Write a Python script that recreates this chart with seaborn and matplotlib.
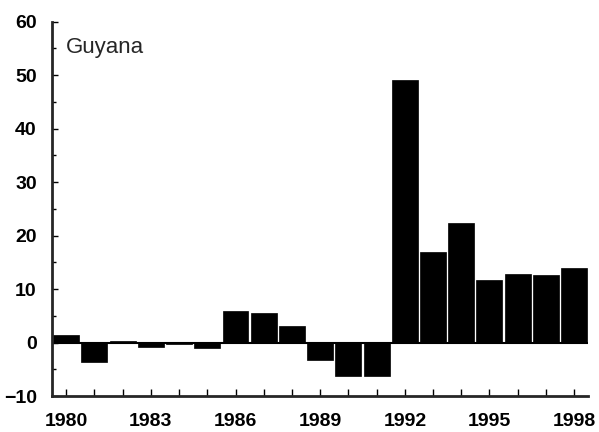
import matplotlib
matplotlib.use("Agg")
import matplotlib.pyplot as plt
import seaborn as sns
import pandas as pd
from matplotlib.ticker import MultipleLocator

years = list(range(1980, 1999))
values = [1.4, -3.6, 0.3, -0.8, -0.3, -1.0, 6.0, 5.5, 3.2, -3.3, -6.3, -6.2,
          49.0, 17.0, 22.4, 11.8, 12.9, 12.6, 13.9]
country = "Guyana"

sns.set_style("ticks")
plt.rcParams['font.family'] = ['Liberation Sans', 'DejaVu Sans']

df = pd.DataFrame({"year": [str(y) for y in years], "value": values})

fig = plt.figure(figsize=(5.99, 4.32), dpi=100)
ax = fig.add_axes([0.087, 0.083, 0.895, 0.867])

sns.barplot(data=df, x="year", y="value", color="black", width=0.92,
            saturation=1, edgecolor="black", linewidth=0.5, ax=ax)
ax.axhline(0, color="black", lw=1.5, zorder=0)

ax.set_ylim(-10, 60)
ax.set_xlim(-0.5, len(years) - 0.5)
ax.yaxis.set_major_locator(MultipleLocator(10))
ax.yaxis.set_minor_locator(MultipleLocator(5))
ax.set_xticks(range(len(years)))
ax.set_xticklabels([str(y) if (y - 1980) % 3 == 0 else "" for y in years])

ax.tick_params(axis="both", which="both", direction="in", color="black",
               width=1, labelsize=14, labelcolor="black")
ax.tick_params(axis="y", which="major", length=4, pad=11)
ax.tick_params(axis="y", which="minor", length=3)
ax.tick_params(axis="x", length=5, pad=12)
for lab in ax.get_xticklabels() + ax.get_yticklabels():
    lab.set_fontweight("bold")

sns.despine(ax=ax)
ax.spines["left"].set_linewidth(2)
ax.spines["bottom"].set_linewidth(2)
ax.set_xlabel("")
ax.set_ylabel("")

ax.text(0.025, 0.96, country, transform=ax.transAxes, fontsize=16,
        ha="left", va="top")

fig.savefig("out.png", dpi=100)
